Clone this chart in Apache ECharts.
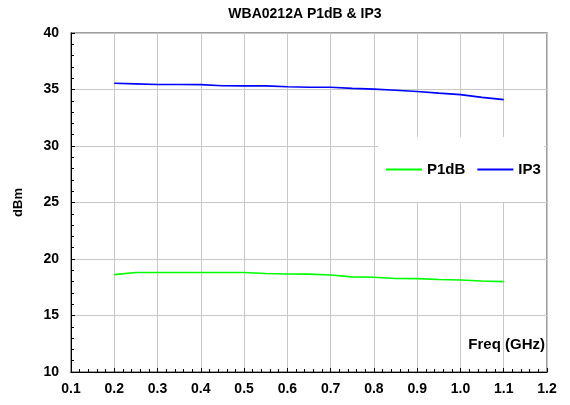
<!DOCTYPE html>
<html>
<head>
<meta charset="utf-8">
<script src="https://cdn.jsdelivr.net/npm/echarts@6/dist/echarts.min.js"></script>
<style>
html,body{margin:0;padding:0;background:#fff;}
#chart{width:570px;height:405px;}
</style>
</head>
<body>
<div id="chart"></div>
<script>
// frequency points (GHz)
var freqs = [0.2, 0.25, 0.3, 0.35, 0.4, 0.45, 0.5, 0.55, 0.6, 0.65, 0.7, 0.75, 0.8, 0.85, 0.9, 0.95, 1.0, 1.05, 1.1];

// P1dB (dBm)
var p1dbValues = [18.62, 18.8, 18.8, 18.8, 18.8, 18.8, 18.8, 18.72, 18.67, 18.66, 18.58, 18.42, 18.38, 18.28, 18.26, 18.18, 18.14, 18.05, 18.0];

// IP3 (dBm)
var ip3Values = [35.55, 35.5, 35.44, 35.44, 35.43, 35.33, 35.32, 35.32, 35.25, 35.2, 35.2, 35.1, 35.03, 34.93, 34.82, 34.68, 34.55, 34.3, 34.1];

var seriesNames = ["P1dB", "IP3"];
var seriesColors = ["#00ff00", "#0000ff"];

function pairs(xs, ys){
	var out = [];
	for(var i = 0; i < xs.length; ++i){
		out.push([xs[i], ys[i]]);
	}
	return out;
}

var fontFamily = "Arial, 'Liberation Sans', sans-serif";

var chart = echarts.init(document.getElementById("chart"), null, {renderer : "canvas"});

var option = {
	animation : false,
	backgroundColor : "#fff",
	grid : {
		left : 71,
		right : 23,
		top : 33,
		bottom : 33,
		show : true,
		borderColor : "#808080",
		borderWidth : 1.5,
		backgroundColor : "transparent"
	},
	graphic : [
		{
			type : "text",
			x : 305,
			y : 7,
			style : {
				text : "WBA0212A P1dB & IP3",
				font : "bold 14px " + fontFamily,
				fill : "#000",
				align : "center",
				textAlign : "center"
			}
		},
		{
			type : "text",
			right : 25,
			top : 337,
			style : {
				text : "Freq (GHz)",
				font : "bold 15px " + fontFamily,
				fill : "#000"
			}
		}
	],
	legend : {
		left : 378,
		top : 137,
		padding : [25, 3, 25, 8],
		backgroundColor : "#fff",
		itemWidth : 36,
		itemHeight : 2,
		itemGap : 12,
		icon : "rect",
		textStyle : {
			fontFamily : fontFamily,
			fontWeight : "bold",
			fontSize : 15,
			color : "#000"
		},
		data : seriesNames
	},
	xAxis : {
		type : "value",
		min : 0.1,
		max : 1.2,
		interval : 0.1,
		axisLine : {show : true, lineStyle : {color : "#000", width : 1}},
		axisTick : {show : true, inside : true, length : 4, lineStyle : {color : "#000"}},
		minorTick : {show : true, splitNumber : 5, length : 3, lineStyle : {color : "#000"}},
		splitLine : {show : true, lineStyle : {color : "#c8c8c8", width : 1}},
		axisLabel : {
			margin : 10,
			fontFamily : fontFamily,
			fontWeight : "bold",
			fontSize : 14,
			color : "#000",
			formatter : function(v){ return v.toFixed(1); }
		}
	},
	yAxis : {
		type : "value",
		min : 10,
		max : 40,
		interval : 5,
		name : "dBm",
		nameLocation : "middle",
		nameRotate : 90,
		nameGap : 46,
		nameTextStyle : {
			fontFamily : fontFamily,
			fontWeight : "bold",
			fontSize : 13,
			color : "#000"
		},
		axisLine : {show : true, lineStyle : {color : "#000", width : 1}},
		axisTick : {show : true, inside : true, length : 4, lineStyle : {color : "#000"}},
		minorTick : {show : true, splitNumber : 5, length : 3, lineStyle : {color : "#000"}},
		splitLine : {show : true, lineStyle : {color : "#c8c8c8", width : 1}},
		axisLabel : {
			margin : 12,
			fontFamily : fontFamily,
			fontWeight : "bold",
			fontSize : 14,
			color : "#000"
		}
	},
	series : [
		{
			name : seriesNames[0],
			type : "line",
			data : pairs(freqs, p1dbValues),
			showSymbol : false,
			symbol : "none",
			color : seriesColors[0],
			lineStyle : {color : seriesColors[0], width : 1.6},
			z : 3
		},
		{
			name : seriesNames[1],
			type : "line",
			data : pairs(freqs, ip3Values),
			showSymbol : false,
			symbol : "none",
			color : seriesColors[1],
			lineStyle : {color : seriesColors[1], width : 1.6},
			z : 3
		}
	]
};

chart.setOption(option);
</script>
</body>
</html>
